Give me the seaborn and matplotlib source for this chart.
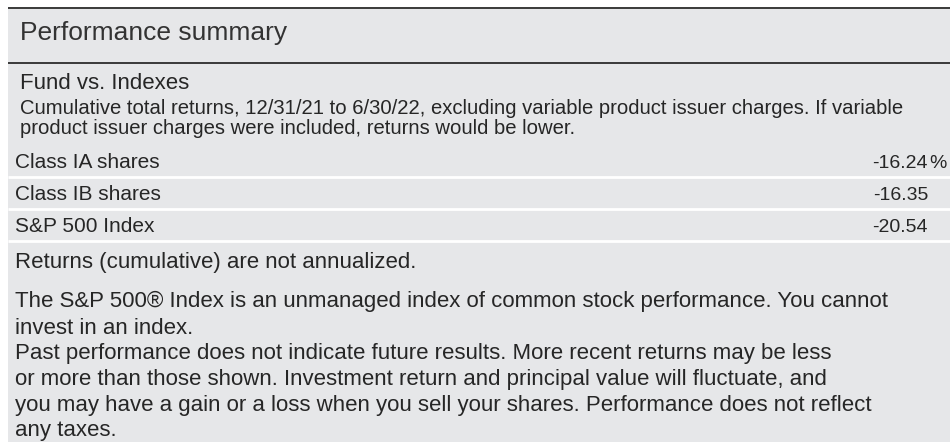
import seaborn as sns
import matplotlib.pyplot as plt
from matplotlib.patches import Rectangle

# table rows
labels = ["Class IA shares", "Class IB shares", "S&P 500 Index"]
returns = [-16.24, -16.35, -20.54]

title = "Performance summary"
heading = "Fund vs. Indexes"
subtitle = ["Cumulative total returns, 12/31/21 to 6/30/22, excluding variable product issuer charges. If variable",
            "product issuer charges were included, returns would be lower."]
notes = ["Returns (cumulative) are not annualized.",
         "The S\u0026P 500\u00ae Index is an unmanaged index of common stock performance. You cannot",
         "invest in an index.",
         "Past performance does not indicate future results. More recent returns may be less",
         "or more than those shown. Investment return and principal value will fluctuate, and",
         "you may have a gain or a loss when you sell your shares. Performance does not reflect",
         "any taxes."]

sns.set_theme(style="white")
plt.rcParams['font.family'] = ['Liberation Sans', 'DejaVu Sans']

bg = "#e6e7e9"
ink = "#262626"

fig = plt.figure(figsize=(9.5, 4.42), dpi=100, facecolor="white")
ax = fig.add_axes([0, 0, 1, 1])
ax.set_xlim(0, 950)
ax.set_ylim(442, 0)
ax.axis("off")

ax.add_patch(Rectangle((8, 7), 942, 435, facecolor=bg, edgecolor="none"))
ax.hlines([7.5, 62.5], 8, 950, color="#3a3a3a", lw=1.4)

ax.text(20, 40, title, fontsize=19, color="#333333", va="baseline")
ax.text(20, 89, heading, fontsize=16, color=ink, va="baseline")
for i, line in enumerate(subtitle):
    ax.text(20, 114 + i * 20, line, fontsize=14.6, color=ink, va="baseline")

# rows of the returns table
row0, row_h = 168, 32
for i, (lab, val) in enumerate(zip(labels, returns)):
    y = row0 + i * row_h
    ax.text(15, y, lab, fontsize=15, color=ink, va="baseline")
    ax.text(928, y, f"{val:.2f}", fontsize=14, color=ink, va="baseline", ha="right")
    if i == 0:
        ax.text(929, y, "%", fontsize=14, color=ink, va="baseline", ha="left")
    ax.hlines(y + 9, 8, 950, color="white", lw=2)

note_y = [268, 307, 334, 359, 385, 411, 436]
for y, line in zip(note_y, notes):
    ax.text(15, y, line, fontsize=16, color=ink, va="baseline")

fig.savefig("out.png", dpi=100, facecolor=fig.get_facecolor())
